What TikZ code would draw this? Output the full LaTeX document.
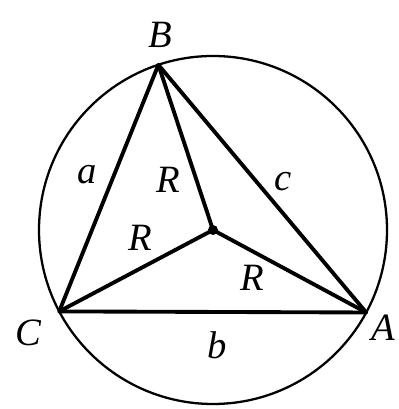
\documentclass[tikz,border=0pt]{standalone}
\usepackage{fontspec}
\setmainfont{Liberation Serif}
\usetikzlibrary{calc}
\begin{document}
\begin{tikzpicture}[
    side/.style={line width=2.2pt, line join=round},
    lbl/.style={font=\fontsize{22}{22}\selectfont\itshape, inner sep=0pt},
]
\useasboundingbox (0,0) rectangle (7.96,8.18);

% Circle and centre
\coordinate (O) at (4.26,3.58);
\draw[line width=1.3pt] (O) circle (3.48);
\fill (O) circle (0.1);

% Vertices on the circle
\coordinate (B) at ($(O)+(108.3:3.48)$);
\coordinate (C) at ($(O)+(207.9:3.48)$);
\coordinate (A) at ($(O)+(-28.3:3.48)$);

% Triangle and radii
\draw[side] (A) -- (B) -- (C) -- cycle;
\draw[side] (O) -- (A);
\draw[side] (O) -- (B);
\draw[side] (O) -- (C);

% Labels
\node[lbl] (lB) at (3.2,7.48) {B};
\node[lbl] (lC) at (0.56,1.52) {C};
\node[lbl] (lA) at (7.66,1.62) {A};
\node[lbl] (la) at (1.74,4.68) {a};
\node[lbl] (lb) at (4.34,1.28) {b};
\node[lbl] (lc) at (5.66,4.54) {c};
\node[lbl] (lR1) at (3.36,4.58) {R};
\node[lbl] (lR2) at (2.8,3.42) {R};
\node[lbl] (lR3) at (5.04,2.62) {R};

\end{tikzpicture}
\end{document}
